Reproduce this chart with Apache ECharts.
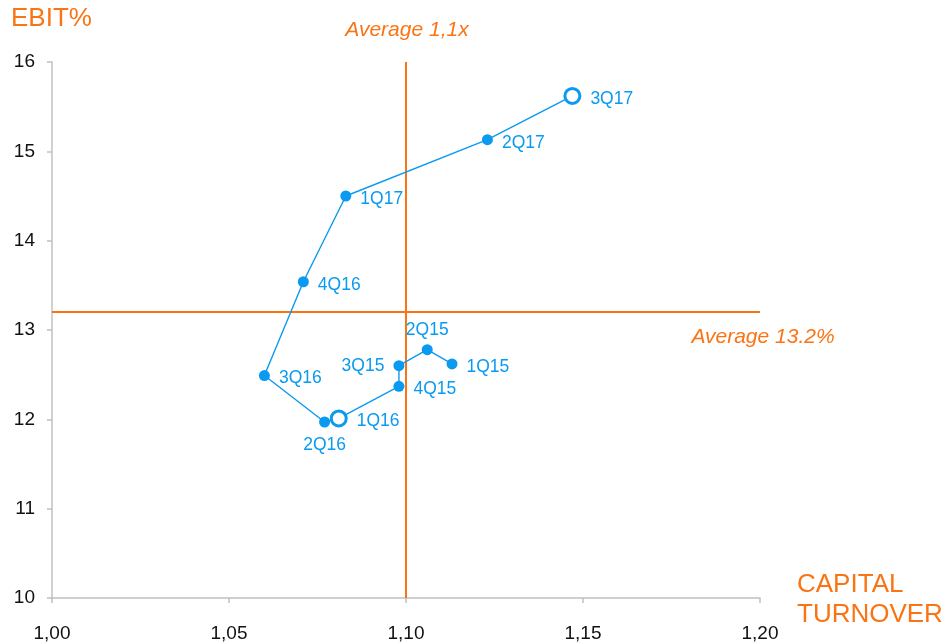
<!DOCTYPE html>
<html>
<head>
<meta charset="utf-8">
<script src="https://cdn.jsdelivr.net/npm/echarts@6/dist/echarts.min.js"></script>
<style>
  html, body { margin: 0; padding: 0; background: #fff; }
  #chart { width: 950px; height: 643px; }
</style>
</head>
<body>
<div id="chart"></div>
<script>
// quarters, capital turnover (x) and EBIT% (y)
var quarters = ['1Q15', '2Q15', '3Q15', '4Q15', '1Q16', '2Q16', '3Q16', '4Q16', '1Q17', '2Q17', '3Q17'];
var turnover = [1.113, 1.106, 1.098, 1.098, 1.081, 1.077, 1.060, 1.071, 1.083, 1.123, 1.147];
var ebit = [12.62, 12.78, 12.60, 12.37, 12.01, 11.97, 12.49, 13.54, 14.50, 15.13, 15.62];
var labelPos = ['right', 'top', 'left', 'right', 'right', 'bottom', 'right', 'right', 'right', 'right', 'right'];
var hollow = ['1Q16', '3Q17'];
var avgTurnover = 1.1;
var avgEbit = 13.2;

var blue = '#0a9af0';
var orange = '#fb7414';
var font = 'Liberation Sans, Arial, sans-serif';

var points = [];
for (var i = 0; i < quarters.length; i++) {
  var p = {
    value: [turnover[i], ebit[i]],
    name: quarters[i],
    label: { position: labelPos[i] }
  };
  if (labelPos[i] == 'right') p.label.offset = [0, 3];
  if (labelPos[i] == 'top') p.label.offset = [0, 4];
  if (hollow.indexOf(quarters[i]) >= 0) {
    p.symbolSize = 15;
    p.itemStyle = { color: '#fff', borderColor: blue, borderWidth: 3 };
  }
  points.push(p);
}

var chart = echarts.init(document.getElementById('chart'));
chart.setOption({
  animation: false,
  grid: { left: 52, right: 190, top: 62, bottom: 45 },
  xAxis: {
    type: 'value',
    min: 1.0, max: 1.2, interval: 0.05,
    splitLine: { show: false },
    axisLine: { lineStyle: { color: '#c0c0c0', width: 1.5 } },
    axisTick: { show: true, length: 5, lineStyle: { color: '#c0c0c0', width: 1.5 } },
    axisLabel: {
      color: '#111', fontSize: 19, fontFamily: font, margin: 26,
      formatter: function (v) { return v.toFixed(2).replace('.', ','); }
    }
  },
  yAxis: {
    type: 'value',
    min: 10, max: 16, interval: 1,
    splitLine: { show: false },
    axisLine: { show: true, onZero: false, lineStyle: { color: '#c0c0c0', width: 1.5 } },
    axisTick: { show: true, length: 5, lineStyle: { color: '#c0c0c0', width: 1.5 } },
    axisLabel: { color: '#111', fontSize: 19, fontFamily: font, margin: 17 }
  },
  graphic: [
    { type: 'text', x: 11, y: 6, style: { text: 'EBIT%', fill: orange, font: '26px ' + font } },
    { type: 'text', x: 797, y: 570, style: { text: 'CAPITAL\nTURNOVER', fill: orange, font: '26px ' + font, lineHeight: 30 } },
    { type: 'text', x: 407, y: 30, style: { text: 'Average 1,1x', fill: orange, font: 'italic 21px ' + font, align: 'center', verticalAlign: 'middle' } },
    { type: 'text', x: 763, y: 337, style: { text: 'Average 13.2%', fill: orange, font: 'italic 21px ' + font, align: 'center', verticalAlign: 'middle' } }
  ],
  series: [
    {
      type: 'line',
      data: points,
      symbol: 'circle',
      symbolSize: 11,
      z: 3,
      itemStyle: { color: blue },
      lineStyle: { color: blue, width: 1.4 },
      label: {
        show: true,
        color: blue,
        fontSize: 17.5,
        fontFamily: font,
        distance: 9,
        formatter: function (p) { return p.name; }
      },
      markLine: {
        silent: true,
        symbol: 'none',
        z: 2,
        label: { show: false },
        lineStyle: { color: orange, width: 2, type: 'solid' },
        data: [{ xAxis: avgTurnover }, { yAxis: avgEbit }]
      }
    }
  ]
});
</script>
</body>
</html>
